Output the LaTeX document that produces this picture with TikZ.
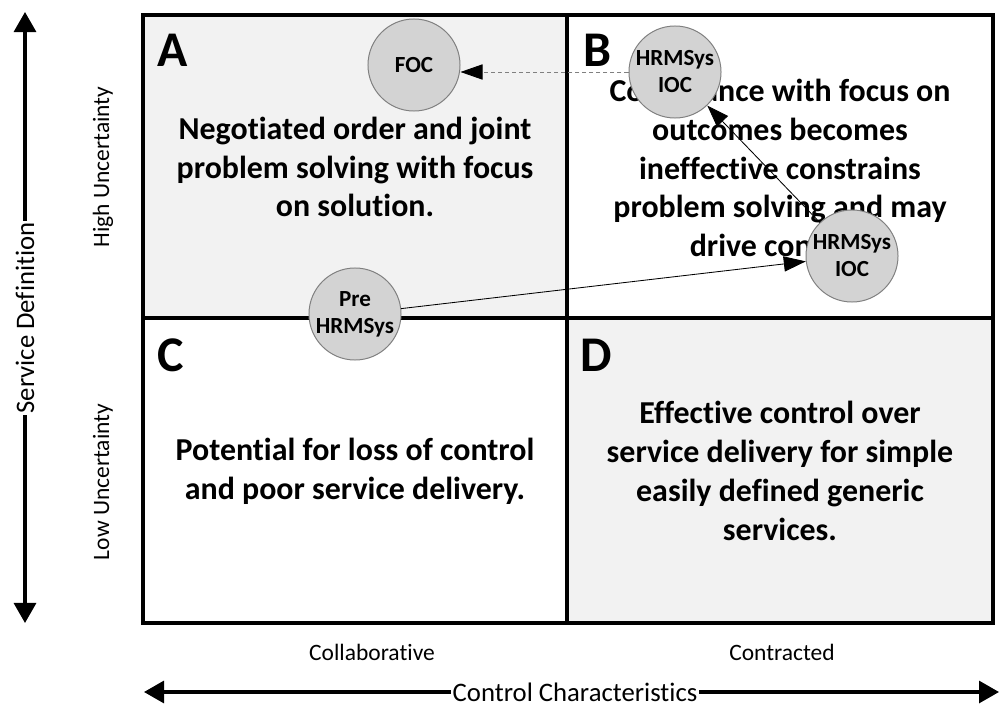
\documentclass[tikz,border=0pt]{standalone}
\usepackage{fontspec}
\setmainfont{Carlito}[Ligatures=NoCommon]
\usetikzlibrary{arrows.meta}
\definecolor{quadgray}{RGB}{242,242,242}
\definecolor{ringgray}{RGB}{211,211,211}
\definecolor{rimgray}{RGB}{128,128,128}
\tikzstyle{gridline}=[line width=2.2pt]
\tikzstyle{quadtext}=[align=center, inner sep=0pt, font=\bfseries\fontsize{22.7}{27.6}\selectfont]
\tikzstyle{quadletter}=[anchor=base west, inner sep=0pt, font=\bfseries\fontsize{35.5}{36}\selectfont]
\tikzstyle{phase}=[circle, draw=rimgray, fill=ringgray, line width=0.7pt, minimum size=2.3cm, inner sep=0pt, align=center, font=\bfseries\fontsize{16.4}{19.2}\selectfont]
\tikzstyle{move}=[line width=0.6pt, -{Triangle[length=0.55cm,width=0.38cm,color=black]}]
\tikzstyle{axis}=[line width=2.2pt, {Triangle[length=0.5cm,width=0.55cm]}-{Triangle[length=0.5cm,width=0.55cm]}]
\tikzstyle{axistitle}=[fill=white, inner sep=1pt, font=\fontsize{19}{22}\selectfont]
\tikzstyle{axisend}=[inner sep=0pt, font=\fontsize{16.7}{19}\selectfont]

\begin{document}
\begin{tikzpicture}[x=0.025cm, y=-0.025cm]
            \useasboundingbox (0,0) rectangle (1000,709);
            \fill[quadgray] (143,15) rectangle (567,318);
            \fill[quadgray] (567,318) rectangle (993,623);
            \draw[gridline] (143,15) rectangle (993,623);
            \draw[gridline] (567,15) -- (567,623);
            \draw[gridline] (143,318) -- (993,318);

            \node[quadletter] (letterA) at (157,67) {A};
            \node[quadletter] (letterB) at (583,67) {B};
            \node[quadletter] (letterC) at (157,371) {C};
            \node[quadletter] (letterD) at (580,371) {D};

            \node[quadtext] (textA) at (355,167) {Negotiated order and joint\\problem solving with focus\\on solution.};
            \node[quadtext] (textB) at (780,168) {Compliance with focus on\\outcomes becomes\\ineffective constrains\\problem solving and may\\drive conflict.};
            \node[quadtext] (textC) at (355,471) {Potential for loss of control\\and poor service delivery.};
            \node[quadtext] (textD) at (780,471) {Effective control over\\service delivery for simple\\easily defined generic\\services.};

            \node[phase] (foc) at (414,65) {FOC};
            \node[phase] (iocB) at (675,72) {HRMSys\\IOC};
            \node[phase] (iocA) at (852,256) {HRMSys\\IOC};
            \node[phase] (pre) at (355,314) {Pre\\HRMSys};

            \draw[move] (pre) -- (iocA);
            \draw[move] (iocA) -- (iocB);
            \draw[move, draw=rimgray, dash pattern=on 3pt off 2pt] (iocB.west) -- (iocB.west -| foc.east);

            \coordinate (sdtop) at (25,12);
            \coordinate (sdbot) at (25,623);
            \draw[axis] (sdtop) -- (sdbot);
            \node[axistitle, rotate=90] (sdlabel) at (25,318) {Service Definition};
            \coordinate (ccleft) at (144,692);
            \coordinate (ccright) at (999,692);
            \draw[axis] (ccleft) -- (ccright);
            \node[axistitle] (cclabel) at (575,692) {Control Characteristics};

            \node[axisend, rotate=90] (high) at (103,167) {High Uncertainty};
            \node[axisend, rotate=90] (low) at (103,482) {Low Uncertainty};
            \node[axisend] (collab) at (372,652) {Collaborative};
            \node[axisend] (contr) at (782,652) {Contracted};
        \end{tikzpicture}
\end{document}
